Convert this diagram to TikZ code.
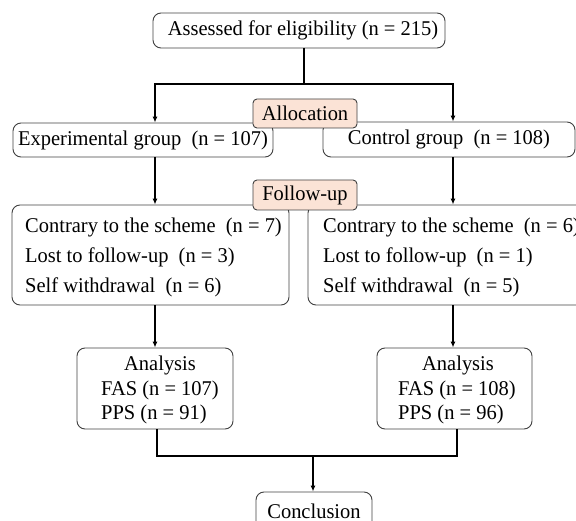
\documentclass[tikz,border=0pt]{standalone}
\usepackage{fontspec}
\setmainfont[FakeStretch=0.975]{Liberation Serif}
\usetikzlibrary{arrows.meta}
\definecolor{peach}{HTML}{FBE3D6}
\definecolor{edge}{HTML}{404040}
\begin{document}
\begin{tikzpicture}[x=1pt,y=-1pt,
  box/.style={draw=edge, line width=0.9pt, rounded corners=8pt, inner sep=0pt,
    font=\fontsize{21}{24}\selectfont},
  tag/.style={box, fill=peach, rounded corners=4pt},
  txt/.style={anchor=base west, inner sep=0pt, font=\fontsize{21}{24}\selectfont},
  conn/.style={line width=1.5pt, black},
  arr/.style={conn, -{Latex[length=6pt,width=5pt]}}]
\useasboundingbox (0,0) rectangle (576,521);
\clip (0,0) rectangle (576,521);
% boxes
\node[box, minimum width=292pt, minimum height=35pt] (top) at (299,30.5) {\hspace*{8pt}Assessed for eligibility (n = 215)};
\node[box, minimum width=260pt, minimum height=34pt] (exp) at (143,140) {Experimental group\ \ (n = 107)};
\node[box, minimum width=252pt, minimum height=35pt] (ctl) at (449,139.5) {Control group\ \ (n = 108)};
\node[box, minimum width=277pt, minimum height=100pt] (lf) at (150.5,255) {};
\node[box, minimum width=280pt, minimum height=100pt] (rf) at (448,255) {};
\node[box, minimum width=156pt, minimum height=81pt] (la) at (155,388.5) {};
\node[box, minimum width=155pt, minimum height=81pt] (ra) at (454.5,388.5) {};
\node[box, minimum width=116pt, minimum height=38pt] (con) at (314,511) {Conclusion};
% box texts
\node[txt] (lf1) at (25,232.5) {Contrary to the scheme\ \ (n = 7)};
\node[txt] (lf2) at (25,263) {Lost to follow-up\ \ (n = 3)};
\node[txt] (lf3) at (25,293) {Self withdrawal\ \ (n = 6)};
\node[txt] (rf1) at (323,232.5) {Contrary to the scheme\ \ (n = 6)};
\node[txt] (rf2) at (323,263) {Lost to follow-up\ \ (n = 1)};
\node[txt] (rf3) at (323,293) {Self withdrawal\ \ (n = 5)};
\node[txt] (la1) at (124,370.5) {Analysis};
\node[txt] (la2) at (101,395.5) {FAS (n = 107)};
\node[txt] (la3) at (101,420) {PPS (n = 91)};
\node[txt] (ra1) at (422,370.5) {Analysis};
\node[txt] (ra2) at (398,395.5) {FAS (n = 108)};
\node[txt] (ra3) at (398,420) {PPS (n = 96)};
% tags
\node[tag, minimum width=104pt, minimum height=29pt] (alloc) at (305,113.5) {Allocation};
\node[tag, minimum width=104pt, minimum height=30pt] (fu) at (305,195) {Follow-up};
% connector coordinates
\coordinate (j1) at (304,84);
\coordinate (xl) at (155,0);
\coordinate (xr) at (453,0);
\coordinate (bl) at (157,0);
\coordinate (br) at (457,0);
\coordinate (j2) at (313,456);
% connectors
\draw[conn] (top.south -| j1) -- (j1);
\draw[arr] (j1) -| (xl |- exp.north);
\draw[arr] (j1) -| (xr |- ctl.north);
\draw[arr] (xl |- exp.south) -- (xl |- lf.north);
\draw[arr] (xr |- ctl.south) -- (xr |- rf.north);
\draw[arr] (xl |- lf.south) -- (xl |- la.north);
\draw[arr] (xr |- rf.south) -- (xr |- ra.north);
\draw[conn] (bl |- la.south) |- (j2);
\draw[conn] (br |- ra.south) |- (j2);
\draw[arr] (j2) -- (con.north -| j2);
\end{tikzpicture}
\end{document}
